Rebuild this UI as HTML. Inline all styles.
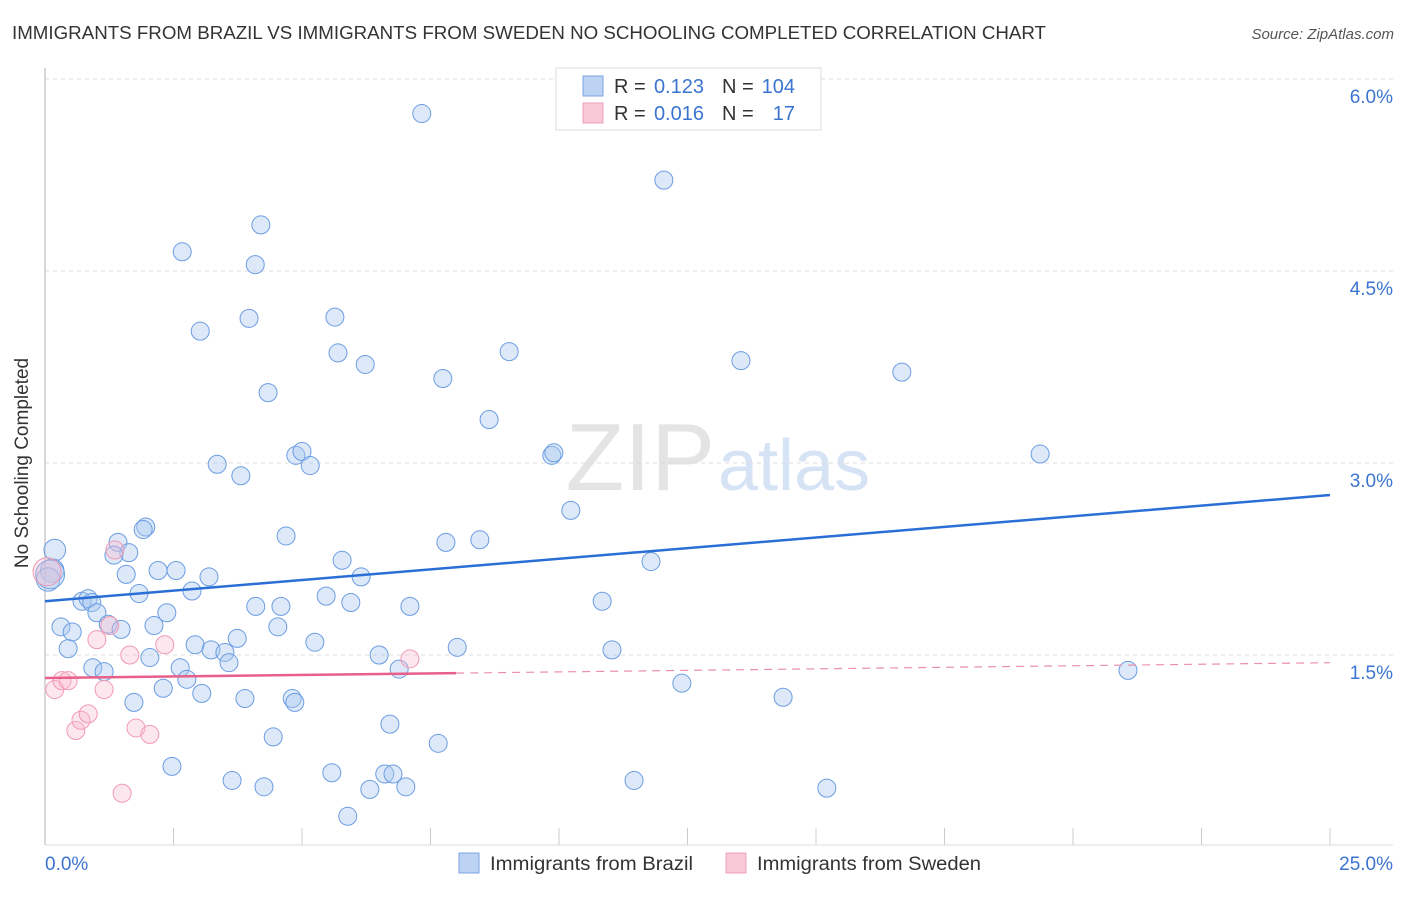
<!DOCTYPE html>
<html><head><meta charset="utf-8"><style>
body{margin:0;background:#fff;font-family:"Liberation Sans",sans-serif;}
svg text{font-family:"Liberation Sans",sans-serif;}
</style></head><body>
<svg id="c" width="1406" height="892">
<text x="12" y="39" font-size="18" fill="#333" textLength="1034" lengthAdjust="spacingAndGlyphs">IMMIGRANTS FROM BRAZIL VS IMMIGRANTS FROM SWEDEN NO SCHOOLING COMPLETED CORRELATION CHART</text>
<text x="1394" y="39" font-size="15" fill="#555" font-style="italic" text-anchor="end">Source: ZipAtlas.com</text>
<text x="715" y="490" font-size="96" fill="#e4e4e4" text-anchor="end" font-family="Liberation Serif">ZIP</text>
<text x="718" y="490" font-size="72" fill="#d5e3f5">atlas</text>
<g id="grid"></g>
<line x1="45" y1="68" x2="45" y2="845" stroke="#ccc" stroke-width="1.5"/>
<line x1="45" y1="845" x2="1393" y2="845" stroke="#ddd"/>
<g id="pts"></g>
<g id="lines"></g>
<text x="20" y="455" font-size="19" fill="#333" text-anchor="middle" transform="rotate(-90 28 455)">No Schooling Completed</text>
<text x="45" y="870" font-size="19" fill="#3b74d0">0.0%</text>
<text x="1393" y="870" font-size="19" fill="#3b74d0" text-anchor="end">25.0%</text>
<g>
<rect x="556" y="68" width="265" height="62" fill="#fff" stroke="#ddd"/>
<rect x="583" y="76" width="20" height="20" fill="#bcd3f3" stroke="#7aa4e0"/>
<rect x="583" y="103" width="20" height="20" fill="#f9c8d6" stroke="#eea0b8"/>
<text x="614" y="93" font-size="20" fill="#333">R =</text>
<text x="704" y="93" font-size="20" fill="#3b74d0" text-anchor="end">0.123</text>
<text x="722" y="93" font-size="20" fill="#333">N =</text>
<text x="795" y="93" font-size="20" fill="#3b74d0" text-anchor="end">104</text>
<text x="614" y="120" font-size="20" fill="#333">R =</text>
<text x="704" y="120" font-size="20" fill="#3b74d0" text-anchor="end">0.016</text>
<text x="722" y="120" font-size="20" fill="#333">N =</text>
<text x="795" y="120" font-size="20" fill="#3b74d0" text-anchor="end">17</text>
</g>
<g>
<rect x="459" y="853" width="20" height="20" fill="#bcd3f3" stroke="#7aa4e0"/>
<text x="490" y="870" font-size="19" fill="#333" textLength="203" lengthAdjust="spacingAndGlyphs">Immigrants from Brazil</text>
<rect x="726" y="853" width="20" height="20" fill="#f9c8d6" stroke="#eea0b8"/>
<text x="757" y="870" font-size="19" fill="#333" textLength="224" lengthAdjust="spacingAndGlyphs">Immigrants from Sweden</text>
</g>
</svg>
<script>
const yTicks=[1.5,3.0,4.5,6.0];
const yTickLabels=["1.5%","3.0%","4.5%","6.0%"];
const xTicks=[2.5,5,7.5,10,12.5,15,17.5,20,22.5,25];
const brazilX=[7.33,12.04,4.20,2.67,4.09,3.02,3.97,5.64,5.70,6.23,9.03,13.54,16.67,4.34,7.74,8.64,3.35,3.81,4.88,5.00,5.16,9.86,9.90,19.36,10.23,1.96,1.91,4.69,7.80,8.46,1.42,1.63,1.34,5.78,11.79,1.58,2.20,2.55,3.19,6.15,1.83,2.86,0.72,0.84,0.91,5.47,5.95,7.10,10.84,4.10,4.59,2.37,1.01,0.31,0.53,1.23,1.48,2.12,4.53,0.45,2.92,3.74,5.25,3.23,3.50,3.58,8.02,6.50,11.03,0.93,1.15,2.04,2.63,2.76,6.89,21.07,2.30,3.05,4.81,4.86,3.89,12.39,14.36,1.73,6.71,4.44,7.65,2.47,3.64,4.26,5.58,6.61,6.77,7.02,6.32,11.46,15.21,5.89,0.19,0.14,0.06,0.10];
const brazilY=[5.73,5.21,4.86,4.65,4.55,4.03,4.13,4.14,3.86,3.77,3.87,3.80,3.71,3.55,3.66,3.34,2.99,2.90,3.06,3.09,2.98,3.06,3.08,3.07,2.63,2.50,2.48,2.43,2.38,2.40,2.38,2.30,2.28,2.24,2.23,2.13,2.16,2.16,2.11,2.11,1.98,2.00,1.92,1.94,1.91,1.96,1.91,1.88,1.92,1.88,1.88,1.83,1.83,1.72,1.68,1.74,1.70,1.73,1.72,1.55,1.58,1.63,1.60,1.54,1.52,1.44,1.56,1.50,1.54,1.40,1.37,1.48,1.40,1.31,1.39,1.38,1.24,1.20,1.16,1.13,1.16,1.28,1.17,1.13,0.96,0.86,0.81,0.63,0.52,0.47,0.58,0.57,0.57,0.47,0.45,0.52,0.46,0.24,2.32,2.16,2.09,2.13];
const brazilSize=[1,1,1,1,1,1,1,1,1,1,1,1,1,1,1,1,1,1,1,1,1,1,1,1,1,1,1,1,1,1,1,1,1,1,1,1,1,1,1,1,1,1,1,1,1,1,1,1,1,1,1,1,1,1,1,1,1,1,1,1,1,1,1,1,1,1,1,1,1,1,1,1,1,1,1,1,1,1,1,1,1,1,1,1,1,1,1,1,1,1,1,1,1,1,1,1,1,1,1.2,1.3,1.3,1.6];
const swedenX=[0.04,0.19,0.33,0.45,0.60,0.70,0.84,1.01,1.15,1.26,1.36,1.65,1.77,2.04,2.33,1.50,7.10];
const swedenY=[2.15,1.23,1.30,1.30,0.91,0.99,1.04,1.62,1.23,1.73,2.32,1.50,0.93,0.88,1.58,0.42,1.47];
const brazilTrend=[1.92,2.75];
const swedenTrend=[1.32,1.44];
const swedenSolidEnd=8.0;
const X=v=>45+v/25*1285, Y=v=>847-v*128;
const NS="http://www.w3.org/2000/svg";
function mk(t,a,p){const e=document.createElementNS(NS,t);for(const k in a)e.setAttribute(k,a[k]);p.appendChild(e);return e;}
const grid=document.getElementById('grid');
yTicks.forEach((t,i)=>{
 const l=mk('line',{x1:45,x2:1393,y1:Y(t),y2:Y(t),stroke:'#ddd','stroke-dasharray':'4,4'},grid);
 
 
 const tx=mk('text',{x:1393,y:Y(t)+24,'font-size':19,fill:'#3b74d0','text-anchor':'end'},grid);
 tx.textContent=yTickLabels[i];
 
 
});
xTicks.forEach(t=>{
 const l=mk('line',{x1:X(t),x2:X(t),y1:828,y2:845,stroke:'#ccc'},grid);
 
 
});
const pts=document.getElementById('pts');
brazilX.forEach((x,i)=>{
 const c=mk('circle',{cx:X(x),cy:Y(brazilY[i]),r:9*brazilSize[i],fill:'rgba(170,200,240,0.4)',stroke:'#6b9de2','stroke-width':1},pts);
 
 
});
swedenX.forEach((x,i)=>{
 const c=mk('circle',{cx:X(x),cy:Y(swedenY[i]),r:i==0?14:9,fill:'rgba(248,185,205,0.35)',stroke:'#f09ab4','stroke-width':1},pts);
 
 
});
const lg=document.getElementById('lines');
const bl=mk('line',{x1:X(0),y1:Y(brazilTrend[0]),x2:X(25),y2:Y(brazilTrend[1]),stroke:'#2a6fd6','stroke-width':2.5},lg);


const sm=swedenTrend[0]+(swedenTrend[1]-swedenTrend[0])*swedenSolidEnd/25;
const s1=mk('line',{x1:X(0),y1:Y(swedenTrend[0]),x2:X(swedenSolidEnd),y2:Y(sm),stroke:'#e8608a','stroke-width':2.5},lg);


const s2=mk('line',{x1:X(swedenSolidEnd),y1:Y(sm),x2:X(25),y2:Y(swedenTrend[1]),stroke:'#eb8fab','stroke-width':1.2,'stroke-dasharray':'8,6'},lg);


</script>
</body></html>
